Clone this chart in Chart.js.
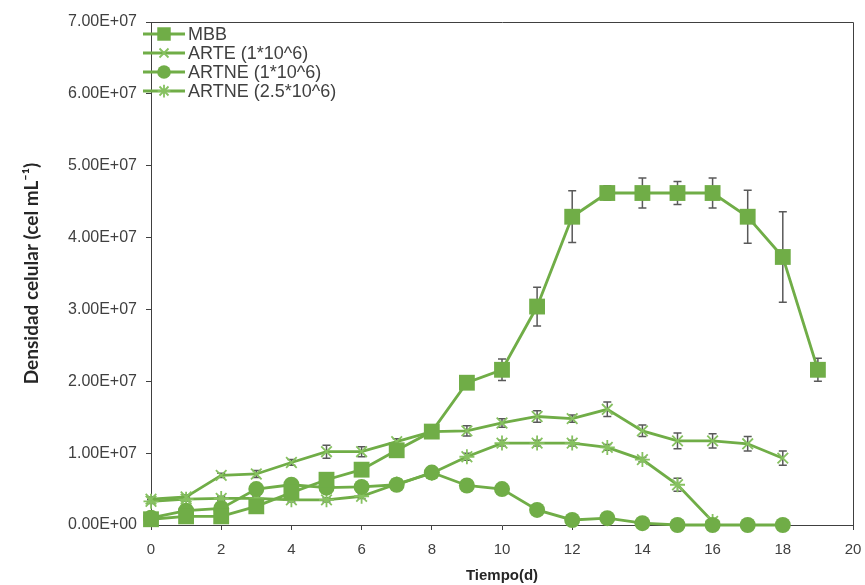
<!DOCTYPE html>
<html><head><meta charset="utf-8">
<script src="https://cdn.jsdelivr.net/npm/chart.js@4"></script>
<style>html,body{margin:0;padding:0;background:#fff;}</style>
</head><body>
<canvas id="c" width="865" height="585"></canvas>
<script>
// ---- data ----
const seriesNames = ['MBB', 'ARTE (1*10^6)', 'ARTNE (1*10^6)', 'ARTNE (2.5*10^6)'];
const daysMBB   = [0,1,2,3,4,5,6,7,8,9,10,11,12,13,14,15,16,17,18,19];
const daysARTE  = [0,1,2,3,4,5,6,7,8,9,10,11,12,13,14,15,16,17,18];
const daysARTNE1 = [0,1,2,3,4,5,6,7,8,9,10,11,12,13,14,15,16,17,18];
const daysARTNE25 = [0,1,2,3,4,5,6,7,8,9,10,11,12,13,14,15,16];
const valMBB = [0.8e6,1.2e6,1.2e6,2.6e6,4.5e6,6.3e6,7.7e6,1.04e7,1.30e7,1.98e7,2.16e7,3.04e7,4.29e7,4.62e7,4.62e7,4.62e7,4.62e7,4.29e7,3.73e7,2.16e7];
const errMBB = [0.1e6,0.2e6,0.2e6,0.3e6,0.3e6,0.4e6,0.5e6,0.5e6,0.3e6,0.3e6,1.5e6,2.7e6,3.6e6,1.0e6,2.1e6,1.6e6,2.1e6,3.7e6,6.3e6,1.6e6];
const valARTE = [3.6e6,3.9e6,6.9e6,7.1e6,8.7e6,1.02e7,1.02e7,1.16e7,1.30e7,1.31e7,1.42e7,1.51e7,1.48e7,1.61e7,1.31e7,1.17e7,1.17e7,1.13e7,0.93e7];
const errARTE = [0.3e6,0.3e6,0.3e6,0.5e6,0.4e6,0.9e6,0.7e6,0.4e6,0.4e6,0.7e6,0.6e6,0.8e6,0.5e6,1.0e6,0.8e6,1.1e6,1.0e6,1.0e6,1.0e6];
const valARTNE1 = [1.0e6,2.0e6,2.3e6,5.0e6,5.6e6,5.2e6,5.3e6,5.6e6,7.3e6,5.5e6,5.0e6,2.1e6,0.7e6,0.95e6,0.25e6,0,0,0,0];
const errARTNE1 = [0.2e6,0.2e6,0.2e6,0.3e6,0.3e6,0.3e6,0.3e6,0.3e6,0.3e6,0.3e6,0.3e6,0.2e6,0.1e6,0.1e6,0.1e6,0,0,0,0];
const valARTNE25 = [3.3e6,3.6e6,3.7e6,3.7e6,3.5e6,3.5e6,4.0e6,5.7e6,7.2e6,9.5e6,1.14e7,1.14e7,1.14e7,1.08e7,0.91e7,0.56e7,0.05e7];
const errARTNE25 = [0.3e6,0.3e6,0.3e6,0.3e6,0.3e6,0.3e6,0.3e6,0.3e6,0.3e6,0.5e6,0.4e6,0.4e6,0.4e6,0.4e6,0.3e6,0.9e6,0.2e6];
const yTickLabels = ['0.00E+00','1.00E+07','2.00E+07','3.00E+07','4.00E+07','5.00E+07','6.00E+07','7.00E+07'];
const xTickLabels = ['0','2','4','6','8','10','12','14','16','18','20'];

// ---- styles ----
const GREEN = '#70AD47';
const AXIS = '#404040';
const pts = (xs, ys) => xs.map((x, i) => ({x: x, y: ys[i]}));

const markerStyles = [
  {pointStyle: 'rect', pointRadius: 11.2, pointBorderWidth: 0},
  {pointStyle: 'crossRot', pointRadius: 7.5, pointBorderWidth: 1.8},
  {pointStyle: 'circle', pointRadius: 8, pointBorderWidth: 0},
  {pointStyle: 'star', pointRadius: 7.5, pointBorderWidth: 1.8}
];
const allX = [daysMBB, daysARTE, daysARTNE1, daysARTNE25];
const allY = [valMBB, valARTE, valARTNE1, valARTNE25];
const allE = [errMBB, errARTE, errARTNE1, errARTNE25];

const datasets = seriesNames.map((name, i) => ({
  label: name,
  data: pts(allX[i], allY[i]),
  errors: allE[i],
  borderColor: GREEN,
  backgroundColor: GREEN,
  borderWidth: 2.8,
  pointStyle: markerStyles[i].pointStyle,
  pointRadius: markerStyles[i].pointRadius,
  pointHoverRadius: markerStyles[i].pointRadius,
  pointBorderWidth: markerStyles[i].pointBorderWidth,
  pointBackgroundColor: GREEN,
  pointBorderColor: i === 1 || i === 3 ? '#86C160' : GREEN,
  tension: 0,
  fill: false,
  clip: false
}));

const errorBars = {
  id: 'errorBars',
  beforeDatasetsDraw(chart) {
    const {ctx, scales: {x, y}} = chart;
    ctx.save();
    ctx.strokeStyle = '#595959';
    ctx.lineWidth = 1.5;
    chart.data.datasets.forEach(ds => {
      ds.data.forEach((p, j) => {
        const e = ds.errors[j];
        if (!e) return;
        const px = x.getPixelForValue(p.x);
        const y1 = y.getPixelForValue(p.y + e);
        const y2 = y.getPixelForValue(Math.max(0, p.y - e));
        ctx.beginPath();
        ctx.moveTo(px, y1); ctx.lineTo(px, y2);
        ctx.moveTo(px - 4, y1); ctx.lineTo(px + 4, y1);
        ctx.moveTo(px - 4, y2); ctx.lineTo(px + 4, y2);
        ctx.stroke();
      });
    });
    ctx.restore();
  }
};

const frame = {
  id: 'frame',
  beforeDatasetsDraw(chart) {
    const {ctx, chartArea: a} = chart;
    ctx.save();
    ctx.strokeStyle = AXIS;
    ctx.lineWidth = 1;
    ctx.beginPath();
    ctx.moveTo(Math.round(a.left) + 0.5, Math.round(a.top) + 0.5);
    ctx.lineTo(Math.round(a.right) + 0.5, Math.round(a.top) + 0.5);
    ctx.lineTo(Math.round(a.right) + 0.5, Math.round(a.bottom) + 0.5);
    ctx.stroke();
    ctx.restore();
  }
};

function drawMarker(ctx, style, x, y, r) {
  ctx.save();
  ctx.fillStyle = GREEN;
  ctx.strokeStyle = '#86C160';
  ctx.lineWidth = 1.8;
  ctx.beginPath();
  if (style === 'rect') {
    const h = r * Math.SQRT1_2;
    ctx.rect(x - h, y - h, 2 * h, 2 * h); ctx.fill();
  } else if (style === 'circle') {
    ctx.arc(x, y, r, 0, Math.PI * 2); ctx.fill();
  } else {
    const d = r * Math.SQRT1_2;
    ctx.moveTo(x - d, y - d); ctx.lineTo(x + d, y + d);
    ctx.moveTo(x - d, y + d); ctx.lineTo(x + d, y - d);
    if (style === 'star') { ctx.moveTo(x, y - r); ctx.lineTo(x, y + r); ctx.moveTo(x - r, y); ctx.lineTo(x + r, y); }
    ctx.stroke();
  }
  ctx.restore();
}

const customLegend = {
  id: 'customLegend',
  afterDraw(chart) {
    const {ctx} = chart;
    const ys = [34, 53, 72, 91];
    ctx.save();
    chart.data.datasets.forEach((ds, i) => {
      const y = ys[i];
      ctx.strokeStyle = GREEN; ctx.lineWidth = 2.8;
      ctx.beginPath(); ctx.moveTo(143, y); ctx.lineTo(185, y); ctx.stroke();
      drawMarker(ctx, ds.pointStyle, 164, y, ds.pointRadius * 0.85);
      ctx.fillStyle = AXIS;
      ctx.font = '18px "Liberation Sans", Arial, sans-serif';
      ctx.textAlign = 'left'; ctx.textBaseline = 'middle';
      ctx.fillText(ds.label, 188, y + 1);
    });
    ctx.restore();
  }
};

new Chart(document.getElementById('c'), {
  type: 'line',
  data: {datasets},
  plugins: [frame, errorBars, customLegend],
  options: {
    responsive: false,
    animation: false,
    layout: {padding: {left: 0, right: 12, top: 22, bottom: 0}},
    plugins: {legend: {display: false}, tooltip: {enabled: false}},
    scales: {
      x: {
        type: 'linear', min: 0, max: 20,
        afterFit(s) { s.height = 60; s.paddingLeft = 0; s.paddingRight = 0; },
        ticks: {stepSize: 2, padding: 11, color: AXIS, maxRotation: 0,
          font: {family: '"Liberation Sans", Arial, sans-serif', size: 15},
          callback: (v, i) => xTickLabels[i]},
        grid: {drawOnChartArea: false, drawTicks: true, tickLength: 5, color: AXIS},
        border: {display: true, color: AXIS, width: 1},
        title: {display: true, text: 'Tiempo(d)', color: '#262626', padding: {top: 0, bottom: 0},
          font: {family: '"Liberation Sans", Arial, sans-serif', size: 15, weight: 'bold'}}
      },
      y: {
        type: 'linear', min: 0, max: 7e7,
        afterFit(s) { s.width = 151; },
        ticks: {stepSize: 1e7, padding: 9, color: AXIS,
          font: {family: '"Liberation Sans", Arial, sans-serif', size: 16},
          callback: (v, i) => yTickLabels[i]},
        grid: {drawOnChartArea: false, drawTicks: true, tickLength: 5, color: AXIS},
        border: {display: true, color: AXIS, width: 1},
        title: {display: true, text: 'Densidad celular (cel mL\u207B\u00B9)', color: '#262626', padding: {top: 20, bottom: 0},
          font: {family: 'Lato, "Open Sans", sans-serif', size: 19, weight: 'bold'}}
      }
    }
  }
});
</script>
</body></html>
